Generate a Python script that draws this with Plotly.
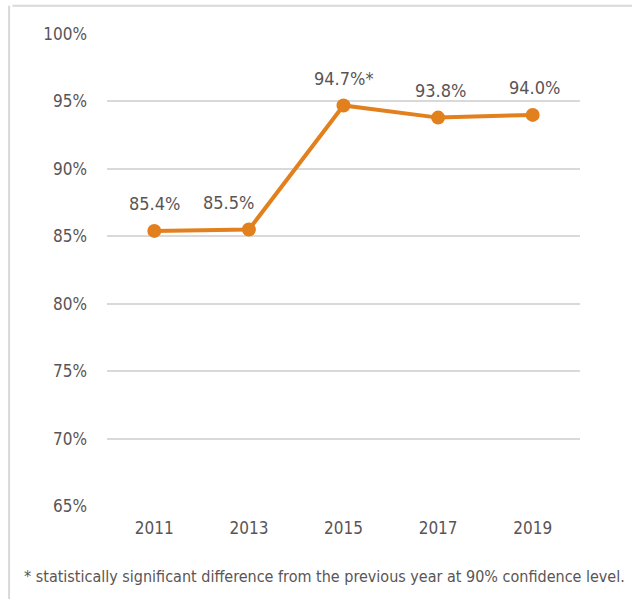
import plotly.graph_objects as go

years = ["2011", "2013", "2015", "2017", "2019"]
values = [85.4, 85.5, 94.7, 93.8, 94.0]
labels = ["85.4%", "85.5%", "94.7%*", "93.8%", "94.0%"]
label_xshift = [0, -20, 0, 2, 2]
tick_vals = [65, 70, 75, 80, 85, 90, 95, 100]
tick_text = ["65%", "70%", "75%", "80%", "85%", "90%", "95%", "100%"]
footnote = "* statistically significant difference from the previous year at 90% confidence level."

FONT = "DejaVu Sans Condensed, Liberation Sans Narrow, sans-serif"
GRAY = "#5A5555"
ORANGE = "#E3801E"

fig = go.Figure()
fig.add_trace(go.Scatter(
    x=years, y=values, mode="lines+markers",
    line=dict(color=ORANGE, width=4),
    marker=dict(color=ORANGE, size=14),
    cliponaxis=False, hoverinfo="skip",
))

annotations = []
for i, (y, t, dx) in enumerate(zip(values, labels, label_xshift)):
    annotations.append(dict(x=i, y=y, xref="x", yref="y", text=t, showarrow=False,
                            yshift=27, xshift=dx,
                            font=dict(family=FONT, size=18, color=GRAY)))
annotations.append(dict(text=footnote, xref="paper", yref="paper", x=-0.18, y=-0.15,
                        xanchor="left", yanchor="middle", showarrow=False,
                        font=dict(family=FONT, size=16, color=GRAY)))

fig.update_layout(
    width=632, height=599,
    margin=dict(l=107, r=52, t=34, b=93),
    plot_bgcolor="white", paper_bgcolor="white",
    showlegend=False,
    xaxis=dict(type="category", range=[-0.5, 4.5], showgrid=False, showline=False,
               zeroline=False, ticks="", ticklabelstandoff=10,
               tickfont=dict(family=FONT, size=17, color=GRAY)),
    yaxis=dict(range=[65, 100], tickvals=tick_vals, ticktext=tick_text,
               showgrid=True, gridcolor="#D9D9D9", gridwidth=1.5, zeroline=False,
               ticks="", ticklabelstandoff=19,
               tickfont=dict(family=FONT, size=17, color=GRAY)),
    shapes=[
        dict(type="line", xref="paper", yref="paper", x0=-0.2, x1=1.2, y0=1.06, y1=1.06,
             line=dict(color="#D9D9D9", width=2), layer="below"),
        dict(type="line", xref="paper", yref="paper", x0=-0.207, x1=-0.207, y0=1.06, y1=-0.3,
             line=dict(color="#D9D9D9", width=2), layer="below"),
    ],
    annotations=annotations,
)

fig.write_html("out.html")
